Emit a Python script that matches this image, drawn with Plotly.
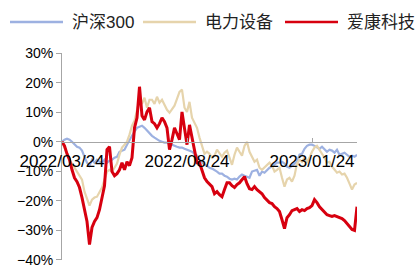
import plotly.graph_objects as go

tick_labels = ["2022/03/24", "2022/08/24", "2023/01/24"]
tick_index = [0, 50, 100]
y_ticks = [-40, -30, -20, -10, 0, 10, 20, 30]

hs300 = [0, 0.7, 1, 0.7, 0, -1, -1.7, -2, -3, -5.1, -7.1, -8.1, -6.1, -7.1, -6.1, -6.8, -7.1, -6.1, -7.1, -6.4,
         -6.1, -5.4, -5.1, -3.4, -3, -2.7, -1, 0.3, 2, 3.4, 4.7, 5.1, 5.4, 4.7, 3.7, 3, 2, 1.4, 0.7, 0.3,
         0, -0.3, -0.3, -0.7, -1, -1.4, -1.7, -2, -2, -2.4, -2.7, -3, -3.4, -4.1, -4.7, -6.1, -6.8, -7.8, -8.1, -8.8,
         -9.1, -9.5, -10.1, -10.8, -10.8, -11.5, -11.8, -12.5, -12.8, -12.5, -12.8, -11.8, -11.1, -11.5, -11.8, -12.2, -10.1, -9.8, -9.5, -11.5,
         -10.1, -10.5, -9.5, -8.8, -8.4, -7.8, -7.1, -7.1, -6.8, -7.4, -8.4, -8.8, -8.1, -7.4, -6.8, -4.4, -4.1, -2.4, -1.4, -1,
         -1, -1.4, -2, -2.4, -1.7, -2.7, -3.4, -2.7, -3, -3.7, -2.7, -4.4, -4.1, -3.7, -4.4, -5.1, -4.7, -5.1, -4.4]

power_eq = [0, -2, -4.4, -6.1, -7.4, -8.8, -10.1, -11.5, -12.8, -16.9, -19.6, -21.6, -19.6, -18.9, -18.6, -16.9, -15.5, -12.8, -10.1, -9.5,
            -10.1, -8.8, -7.4, -4.4, -2, -1, 0, 2.4, 5.4, 7.1, 10.8, 14.2, 12.8, 14.9, 11.5, 14.2, 14.2, 12.8, 15.2, 13.2,
            14.2, 12.2, 10.8, 9.8, 11.1, 12.2, 14.5, 16.9, 17.6, 11.5, 10.1, 13.5, 8.1, 6.1, 4.7, 1.4, -1.4, -4.1, -3.4, -4.1,
            -5.4, -4.7, -2.7, -4.1, -5.1, -3.7, -3, -5.4, -7.8, -4.4, -2, -3.4, -4.7, -1.4, 0, -3.4, -5.4, -6.8, -6.1, -8.8,
            -9.5, -8.8, -8.1, -7.1, -8.1, -10.1, -9.5, -8.8, -12.2, -15.2, -12.8, -12.2, -13.5, -11.5, -7.4, -6.1, -6.8, -5.4, -6.8, -5.4,
            -3.4, -2, -1.4, -2.7, -4.1, -5.4, -7.1, -6.8, -8.4, -9.5, -10.5, -10.1, -11.1, -10.8, -12.2, -14.2, -16.2, -14.5, -13.9]

aikang = [0, -1.4, -4.1, -6.1, -9.5, -12.2, -13.5, -15.5, -18.9, -23.6, -27, -34.8, -29, -27, -25.7, -23, -18.9, -14.9, -2.7, -1.7,
          -10.1, -11.5, -10.8, -9.5, -7.1, -9.5, -6.8, -8.1, -5.4, 4.7, 8.1, 18.6, 8.8, 7.4, 10.1, 11.5, 6.8, 6.1, 4.7, 6.1,
          8.1, 6.8, 4.7, -2.7, 0.7, 4.7, 2.7, 0.7, 10.1, 4.7, -1, 5.7, 1.4, -2.7, -7.1, -7.1, -9.5, -12.2, -13.5, -14.2,
          -15.2, -17.6, -16.9, -17.9, -18.6, -16.2, -13.9, -13.9, -14.9, -15.5, -14.5, -13.9, -12.8, -11.8, -14.2, -15.9, -16.2, -15.2, -16.2, -16.9,
          -17.6, -18.9, -19.6, -20.6, -20.9, -22, -22.6, -23.6, -26.4, -29.4, -25.7, -24.7, -23.3, -23, -22.6, -23.6, -23, -23.3, -22.6, -22.3,
          -21.6, -19.6, -20.6, -22, -23, -24, -24.7, -25, -25.3, -25, -25.3, -25.7, -26, -26.7, -27.7, -28.7, -29.7, -30, -22]

series_names = ["沪深300", "电力设备", "爱康科技"]
series_colors = ["#9DB1E1", "#E6D4AC", "#D7000F"]
series_widths = [2.2, 2.2, 3]
series_values = [hs300, power_eq, aikang]

x = list(range(len(aikang)))

fig = go.Figure()
for name, vals, col, w in zip(series_names, series_values, series_colors, series_widths):
    fig.add_trace(go.Scatter(x=x, y=vals, mode="lines", name=name,
                             line=dict(color=col, width=w), showlegend=False))

ymin, ymax = -40.02, 30.02
fig.update_layout(
    width=415, height=265,
    margin=dict(l=62, r=58, t=53, b=5, autoexpand=False),
    paper_bgcolor="white", plot_bgcolor="white",
    font=dict(family="Liberation Sans, Arial", color="#000000"),
    xaxis=dict(range=[0, len(aikang) - 1], tickvals=tick_index, ticktext=tick_labels,
               automargin=False,
               showgrid=False, zeroline=False, showline=True, linecolor="#A6A6A6", linewidth=1,
               ticks="inside", ticklen=4, tickcolor="#A6A6A6",
               anchor="free", position=(0 - ymin) / (ymax - ymin),
               tickfont=dict(size=17), ticklabelstandoff=4),
    yaxis=dict(range=[ymin, ymax], tickmode="array", tickvals=y_ticks,
               ticktext=[("\u2212" if v < 0 else "") + f"{abs(v)}%" for v in y_ticks],
               ticklabeloverflow="allow", automargin=False,
               showgrid=False, zeroline=False, showline=True, linecolor="#A6A6A6", linewidth=1,
               ticks="outside", ticklen=5, tickcolor="#A6A6A6",
               tickfont=dict(size=14)),
)

# manual legend
legend_x = [10, 143, 285]
for name, col, lx in zip(series_names, series_colors, legend_x):
    fig.add_shape(type="line", xref="paper", yref="paper",
                  x0=(lx - 62) / 295, x1=(lx + 53 - 62) / 295,
                  y0=(265 - 5 - 22) / 207, y1=(265 - 5 - 22) / 207,
                  line=dict(color=col, width=2.5))
    fig.add_annotation(xref="paper", yref="paper", x=(lx + 60 - 62) / 295,
                       y=(265 - 5 - 22) / 207, text=name, showarrow=False,
                       xanchor="left", yanchor="middle",
                       font=dict(size=17, color="#222222",
                                 family="Liberation Sans, Noto Sans CJK SC"))

fig.write_html("out.html",
               config={"displayModeBar": False},
               post_script="document.body.style.margin='0';document.body.style.overflow='hidden';")
